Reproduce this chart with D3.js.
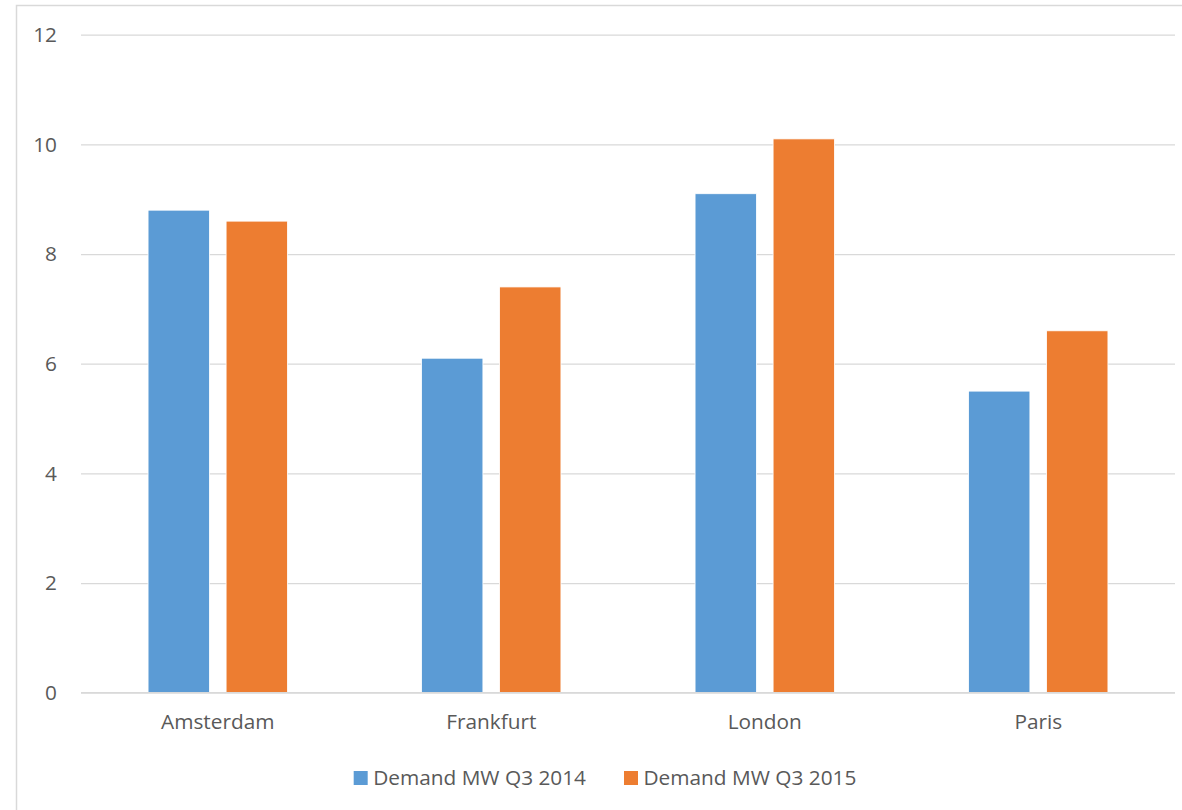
<!DOCTYPE html>
<html>
<head>
<meta charset="utf-8">
<script src="https://cdn.jsdelivr.net/npm/d3@7"></script>
<style>
  html, body { margin: 0; padding: 0; background: #fff; }
  svg { display: block; }
  text { font-family: "Open Sans", "Noto Sans", sans-serif; fill: #595959; }
</style>
</head>
<body>
<svg id="chart" width="1182" height="810"></svg>
<script>
// Data centre demand by city, Q3 2014 vs Q3 2015 (MW)
const cities = ["Amsterdam", "Frankfurt", "London", "Paris"];
const seriesNames = ["Demand MW Q3 2014", "Demand MW Q3 2015"];
const demand2014 = [8.8, 6.1, 9.1, 5.5];
const demand2015 = [8.6, 7.4, 10.1, 6.6];
const yTicks = [0, 2, 4, 6, 8, 10, 12];
const colors = ["#5b9bd5", "#ed7d31"];

const svg = d3.select("#chart");
const W = 1182, H = 810;
const fontSize = 20.8;

// outer chart frame
svg.append("rect")
  .attr("x", 16.5).attr("y", 5.5)
  .attr("width", W + 20).attr("height", H + 20)
  .attr("fill", "#fff").attr("stroke", "#d9d9d9").attr("stroke-width", 1.5);

const plot = { left: 81, right: 1175, top: 34.7, bottom: 692.7 };

const x = d3.scaleBand().domain(cities).range([plot.left, plot.right]).paddingInner(0).paddingOuter(0);
const y = d3.scaleLinear().domain([0, 12]).range([plot.bottom, plot.top]);

// bars within each band: width and gap as a fraction of the band
const barW = x.bandwidth() * 0.2243;
const gap = x.bandwidth() * 0.061;
const x1 = d3.scaleOrdinal().domain([0, 1]).range([-gap / 2 - barW, gap / 2]);

// gridlines
const yAxis = d3.axisLeft(y).tickValues(yTicks).tickSize(-(plot.right - plot.left)).tickPadding(24).tickFormat(d3.format("d"));
const gy = svg.append("g").attr("transform", `translate(${plot.left},0)`).call(yAxis);
gy.select(".domain").remove();
gy.selectAll(".tick line").attr("stroke", "#d9d9d9").attr("stroke-width", 1.3);
gy.selectAll(".tick text").attr("font-size", fontSize).attr("fill", "#595959")
  .attr("font-family", '"Open Sans", "Noto Sans", sans-serif');

const rows = cities.map((c, i) => ({ city: c, values: [demand2014[i], demand2015[i]] }));

const groups = svg.append("g").selectAll("g").data(rows).join("g")
  .attr("transform", d => `translate(${x(d.city) + x.bandwidth() / 2},0)`);

groups.selectAll("rect").data(d => d.values.map((v, k) => ({ v, k }))).join("rect")
  .attr("x", d => x1(d.k))
  .attr("width", barW)
  .attr("y", d => y(d.v))
  .attr("height", d => y(0) - y(d.v))
  .attr("fill", d => colors[d.k])
  .attr("stroke", "#fff").attr("stroke-width", 0.8);

// zero baseline drawn over bars
svg.append("line")
  .attr("x1", plot.left).attr("x2", plot.right)
  .attr("y1", y(0)).attr("y2", y(0))
  .attr("stroke", "#d9d9d9").attr("stroke-width", 1.3);

// category labels
const xAxis = d3.axisBottom(x).tickSize(0).tickPadding(22);
const gx = svg.append("g").attr("transform", `translate(0,${plot.bottom})`).call(xAxis);
gx.select(".domain").remove();
gx.selectAll(".tick text").attr("font-size", fontSize).attr("fill", "#595959")
  .attr("font-family", '"Open Sans", "Noto Sans", sans-serif');

// legend
const legend = svg.append("g");
const items = legend.selectAll("g").data(seriesNames).join("g");
items.append("rect").attr("width", 14).attr("height", 14).attr("y", -14)
  .attr("fill", (d, i) => colors[i]);
items.append("text").attr("x", 19.5).attr("y", 0).attr("font-size", fontSize).text(d => d);
let cx = 0;
const itemGap = 38;
items.each(function () {
  const w = 19.5 + d3.select(this).select("text").node().getComputedTextLength();
  d3.select(this).attr("transform", `translate(${cx},0)`);
  cx += w + itemGap;
});
const total = cx - itemGap;
legend.attr("transform", `translate(${605 - total / 2},785)`);
</script>
</body>
</html>
